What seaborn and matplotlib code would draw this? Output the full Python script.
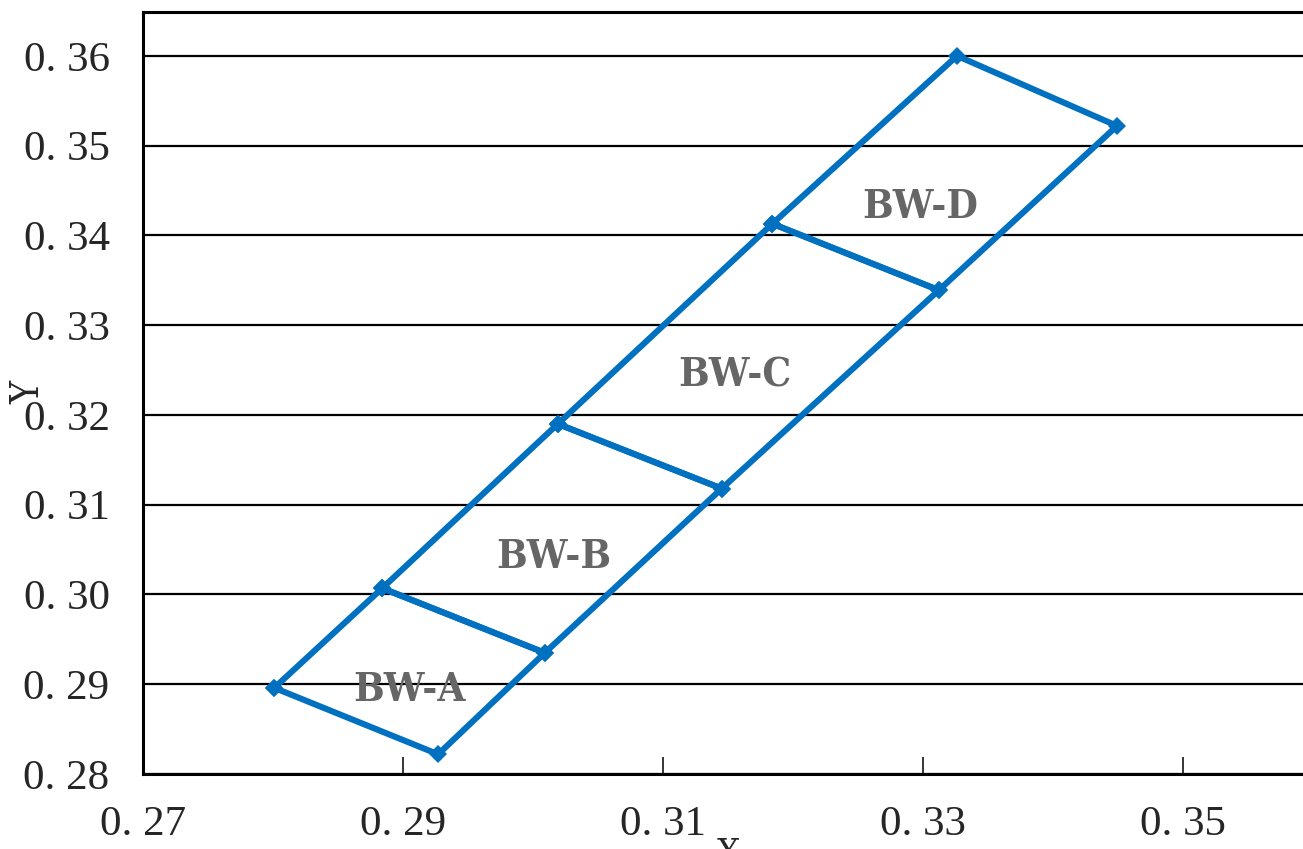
import pandas as pd
import matplotlib
matplotlib.use('Agg')
import matplotlib.pyplot as plt
import seaborn as sns
from matplotlib.ticker import FuncFormatter

# esquinas de los bins (borde izquierdo / derecho)
left_x = [0.2801, 0.2884, 0.3019, 0.3184, 0.3326]
left_y = [0.2896, 0.3007, 0.3190, 0.3413, 0.3600]
right_x = [0.2927, 0.3009, 0.3145, 0.3312, 0.3449]
right_y = [0.2822, 0.2935, 0.3118, 0.3339, 0.3522]

bin_names = ['BW-A', 'BW-B', 'BW-C', 'BW-D']
label_x = [0.2905, 0.3016, 0.3155, 0.3298]
label_y = [0.2894, 0.3042, 0.3244, 0.3432]

x_ticks = [0.27, 0.29, 0.31, 0.33, 0.35]
y_ticks = [0.28, 0.29, 0.30, 0.31, 0.32, 0.33, 0.34, 0.35, 0.36]

rows = []
for i, name in enumerate(bin_names):
    quad = [(left_x[i], left_y[i]), (left_x[i + 1], left_y[i + 1]),
            (right_x[i + 1], right_y[i + 1]), (right_x[i], right_y[i]),
            (left_x[i], left_y[i])]
    for k, (x, y) in enumerate(quad):
        rows.append({'bin': name, 'order': k, 'x': x, 'y': y})
df = pd.DataFrame(rows)

sns.set_style('white')
plt.rcParams['font.family'] = ['Liberation Serif', 'DejaVu Serif']

fig = plt.figure(figsize=(13.03, 8.49), dpi=100)
ax = fig.add_axes([0.1097, 0.0883, 0.8903, 0.8977])

for y in y_ticks:
    ax.axhline(y, color='black', lw=1.6, zorder=0)

sns.lineplot(data=df, x='x', y='y', units='bin', estimator=None, sort=False,
             color='#0070C0', lw=4.4, marker='D', markersize=9,
             markeredgewidth=0, ax=ax, zorder=3)

for name, lx, ly in zip(bin_names, label_x, label_y):
    ax.text(lx, ly, name, ha='center', va='center', fontsize=29,
            color='#666666', fontweight='bold', fontstretch='condensed',
            family=['DejaVu Serif', 'Liberation Serif'])

ax.set_xlim(0.27, 0.3592)
ax.set_ylim(0.28, 0.3649)
ax.set_xticks(x_ticks)
ax.set_yticks(y_ticks)
fmt = FuncFormatter(lambda v, p: '0. %02d' % round(v * 100))
ax.xaxis.set_major_formatter(fmt)
ax.yaxis.set_major_formatter(fmt)
ax.tick_params(axis='x', direction='in', length=12, width=1.3, pad=23,
               labelsize=31, bottom=True)
ax.tick_params(axis='y', length=0, pad=24, labelsize=31, left=True)

for side in ['left', 'bottom', 'top']:
    ax.spines[side].set_color('black')
    ax.spines[side].set_linewidth(2.2)
ax.spines['right'].set_visible(False)

ax.set_xlabel('X', fontsize=26, fontstretch='condensed', family=['DejaVu Serif', 'Liberation Serif'])
ax.set_ylabel('Y', fontsize=28, fontstretch='condensed', family=['DejaVu Serif', 'Liberation Serif'])
ax.xaxis.set_label_coords(0.505, -0.082)
ax.yaxis.set_label_coords(-0.082, 0.5)

fig.savefig('out.png', dpi=100)
